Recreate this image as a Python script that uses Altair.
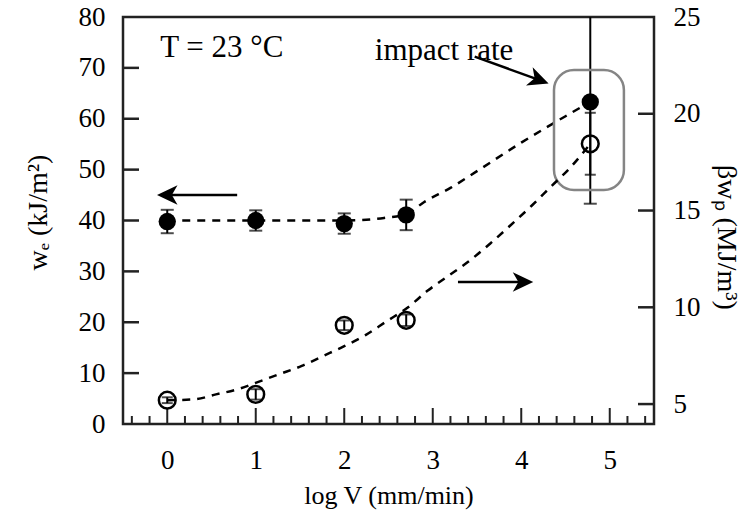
import altair as alt
import pandas as pd

# ---------------- data ----------------
log_v = [0, 1, 2, 2.7, 4.78]
we_vals = [39.8, 40.0, 39.4, 41.1, 63.3]        # left axis, filled circles
we_err = [2.3, 2.0, 2.0, 3.0, 20.0]
bwp_vals = [5.2, 5.5, 9.07, 9.33, 18.45]        # right axis, open circles
bwp_err = [0.15, 0.27, 0.25, 0.3, 1.6]

we_curve_x = [0, 1, 2, 2.45, 2.7, 2.9, 3.2, 3.5, 4.0, 4.5, 4.78]
we_curve_y = [40, 40, 40, 40.5, 41.2, 43.6, 46.4, 49.7, 55.3, 60.5, 63.3]
bwp_curve_x = [0, 0.3, 0.55, 0.8, 1.03, 1.27, 1.52, 1.75, 2.0, 2.24, 2.48, 2.71,
               2.94, 3.17, 3.4, 3.65, 3.87, 4.12, 4.35, 4.55, 4.78]
bwp_curve_y = [5.2, 5.24, 5.5, 5.77, 6.15, 6.55, 6.97, 7.46, 7.99, 8.56, 9.28, 9.96,
               10.85, 11.6, 12.35, 13.3, 14.2, 15.26, 16.3, 17.2, 18.45]

x_major = [0, 1, 2, 3, 4, 5]
x_minor = [-0.4, -0.2, 0.2, 0.4, 0.6, 0.8, 1.2, 1.4, 1.6, 1.8, 2.2, 2.4, 2.6, 2.8,
           3.2, 3.4, 3.6, 3.8, 4.2, 4.4, 4.6, 4.8, 5.2, 5.4]
left_tick_vals = [10, 20, 30, 40, 50, 60, 70]
left_label_vals = [0, 10, 20, 30, 40, 50, 60, 70, 80]
right_tick_vals = [5, 10, 15, 20]
right_label_vals = [5, 10, 15, 20, 25]

# annotations (data units: x = log V, y = left axis)
texts = ["T = 23 °C", "impact rate"]
text_x = [-0.08, 2.345]
text_y = [72.1, 71.5]
arrow_x1 = [0.79, 3.285, 3.474]
arrow_y1 = [45.0, 27.9, 72.2]
arrow_x2 = [0.05, 4.0, 4.2]
arrow_y2 = [45.0, 27.9, 67.64]
head_x = [0.0, 4.02, 4.2]
head_y = [45.0, 27.9, 67.64]
head_angle = [180, 0, 20]
box_x = [4.37]
box_x2 = [5.16]
box_y = [46.0]
box_y2 = [69.6]

FONT = "Liberation Serif"
W, H = 531, 407

pts = pd.DataFrame({"x": log_v, "we": we_vals, "we_lo": [v - e for v, e in zip(we_vals, we_err)],
                    "we_hi": [v + e for v, e in zip(we_vals, we_err)],
                    "bwp": bwp_vals, "bwp_lo": [v - e for v, e in zip(bwp_vals, bwp_err)],
                    "bwp_hi": [v + e for v, e in zip(bwp_vals, bwp_err)]})
we_curve = pd.DataFrame({"x": we_curve_x, "y": we_curve_y})
bwp_curve = pd.DataFrame({"x": bwp_curve_x, "y": bwp_curve_y})

x_scale = alt.Scale(domain=[-0.5, 5.5], nice=False, zero=False)
yl_scale = alt.Scale(domain=[0, 80], nice=False, zero=False)
yr_scale = alt.Scale(domain=[3.97, 25], nice=False, zero=False)

x_axis = alt.Axis(values=x_major, title="log V (mm/min)", labelPadding=23, labelFlush=False,
                  labelOverlap=False, titleY=79, titleBaseline="alphabetic", format="d")
yl_axis = alt.Axis(values=left_label_vals, title="wₑ (kJ/m²)", orient="left", labelPadding=18,
                   labelFlush=False, labelOverlap=False, titleX=-77, titleY=195, titleAngle=-90,
                   titleBaseline="alphabetic", titleAlign="center", format="d", titleFontSize=28)
yr_axis = alt.Axis(values=right_label_vals, title="βwₚ (MJ/m³)", orient="right", labelPadding=19,
                   labelFlush=False, labelOverlap=False, titleX=63, titleY=220, titleAngle=90,
                   titleBaseline="alphabetic", titleAlign="center", format="d", titleFontSize=28)


def X(f, **kw):
    return alt.X(f, type="quantitative", scale=x_scale, axis=x_axis, **kw)


def YL(f):
    return alt.Y(f, type="quantitative", scale=yl_scale, axis=yl_axis)


def YR(f):
    return alt.Y(f, type="quantitative", scale=yr_scale, axis=yr_axis)


# ---------------- left-axis group ----------------
we_line = alt.Chart(we_curve).mark_line(color="black", strokeWidth=2.5, strokeDash=[8, 7],
                                        interpolate="monotone").encode(x=X("x"), y=YL("y"))
we_bar = alt.Chart(pts).mark_rule(color="black", strokeWidth=2, clip=True).encode(
    x=X("x"), y=YL("we_lo"), y2="we_hi")
we_cap_lo = alt.Chart(pts).mark_tick(color="black", thickness=2, size=13, orient="horizontal",
                                     clip=True).encode(x=X("x"), y=YL("we_lo"))
we_cap_hi = alt.Chart(pts).mark_tick(color="black", thickness=2, size=13, orient="horizontal",
                                     clip=True).encode(x=X("x"), y=YL("we_hi"))
we_pts = alt.Chart(pts).mark_point(filled=True, color="black", size=300, opacity=1).encode(
    x=X("x"), y=YL("we"))

tick_df = pd.DataFrame({"v": left_tick_vals})
left_ticks = alt.Chart(tick_df).mark_rule(color="#222", strokeWidth=2.5).encode(
    y=YL("v"), x=alt.value(0), x2=alt.value(16))
major_df = pd.DataFrame({"v": x_major})
minor_df = pd.DataFrame({"v": x_minor})
x_major_ticks = alt.Chart(major_df).mark_rule(color="#222", strokeWidth=2).encode(
    x=X("v"), y=alt.value(H), y2=alt.value(H - 16))
x_minor_ticks = alt.Chart(minor_df).mark_rule(color="#222", strokeWidth=2).encode(
    x=X("v"), y=alt.value(H), y2=alt.value(H - 8))

txt_df = pd.DataFrame({"t": texts, "x": text_x, "y": text_y})
ann_text = alt.Chart(txt_df).mark_text(font=FONT, fontSize=31, align="left", baseline="alphabetic",
                                       color="black").encode(x=X("x"), y=YL("y"), text="t:N")
arr_df = pd.DataFrame({"x1": arrow_x1, "y1": arrow_y1, "x2": arrow_x2, "y2": arrow_y2})
arrows = alt.Chart(arr_df).mark_rule(color="black", strokeWidth=2.5).encode(
    x=X("x1"), y=YL("y1"), x2="x2", y2="y2")
head_df = pd.DataFrame({"x": head_x, "y": head_y, "a": head_angle})
heads = alt.Chart(head_df).mark_point(
    shape="M1,0 L-1,-0.95 L-0.45,0 L-1,0.95 Z", filled=True, color="black", size=420, opacity=1
).encode(x=X("x"), y=YL("y"), angle=alt.Angle("a:Q", scale=None))
box_df = pd.DataFrame({"x": box_x, "x2": box_x2, "y": box_y, "y2": box_y2})
box = alt.Chart(box_df).mark_rect(filled=False, stroke="#858585", strokeWidth=2.5, cornerRadius=20,
                                  fillOpacity=0).encode(x=X("x"), x2="x2", y=YL("y"), y2="y2")

left_group = alt.layer(we_line, we_bar, we_cap_lo, we_cap_hi, we_pts, left_ticks, x_major_ticks,
                       x_minor_ticks, ann_text, arrows, heads, box)

# ---------------- right-axis group ----------------
bwp_line = alt.Chart(bwp_curve).mark_line(color="black", strokeWidth=2.5, strokeDash=[8, 7],
                                          interpolate="monotone").encode(x=X("x"), y=YR("y"))
bwp_bar = alt.Chart(pts).mark_rule(color="black", strokeWidth=2).encode(
    x=X("x"), y=YR("bwp_lo"), y2="bwp_hi")
bwp_cap_lo = alt.Chart(pts).mark_tick(color="black", thickness=2, size=11,
                                      orient="horizontal").encode(x=X("x"), y=YR("bwp_lo"))
bwp_cap_hi = alt.Chart(pts).mark_tick(color="black", thickness=2, size=11,
                                      orient="horizontal").encode(x=X("x"), y=YR("bwp_hi"))
bwp_pts = alt.Chart(pts).mark_point(filled=False, color="black", size=280, strokeWidth=2.5,
                                    opacity=1).encode(x=X("x"), y=YR("bwp"))
rt_df = pd.DataFrame({"v": right_tick_vals})
right_ticks = alt.Chart(rt_df).mark_rule(color="#222", strokeWidth=2.5).encode(
    y=YR("v"), x=alt.value(W - 16), x2=alt.value(W))

right_group = alt.layer(bwp_line, bwp_bar, bwp_cap_lo, bwp_cap_hi, bwp_pts, right_ticks)

chart = alt.layer(left_group, right_group).resolve_scale(y="independent").properties(
    width=W, height=H, autosize=alt.AutoSizeParams(type="none"),
    padding={"left": 123, "top": 17, "right": 100, "bottom": 90}
).configure(font=FONT).configure_view(stroke="#222", strokeWidth=2.5).configure_axis(
    domain=False, ticks=False, grid=False, labelFont=FONT, titleFont=FONT, labelFontSize=27,
    titleFontSize=26, labelColor="black", titleColor="black", titleFontWeight="normal"
)

chart.save("out.html", embed_options={"renderer": "svg", "actions": False})
